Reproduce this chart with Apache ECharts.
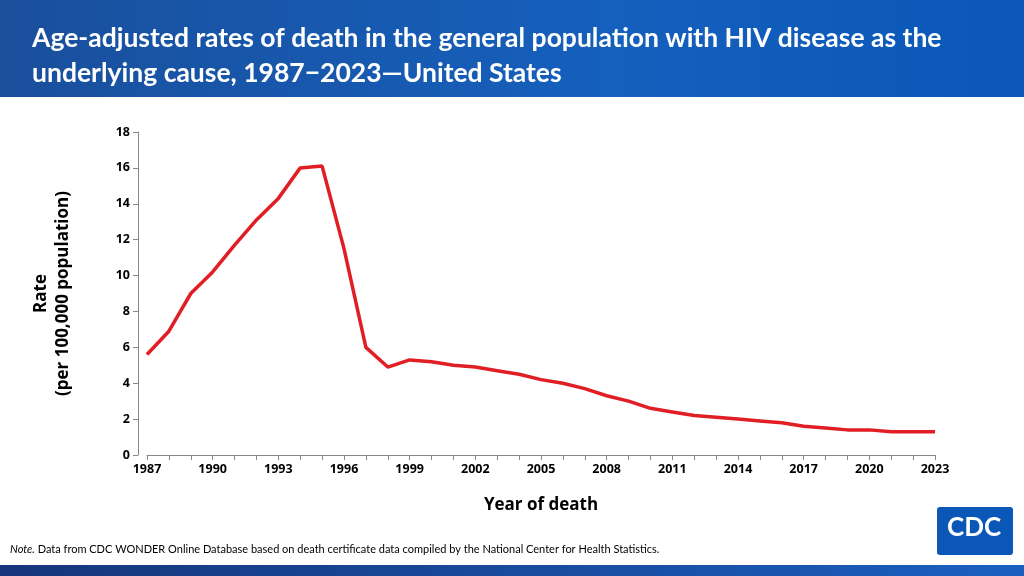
<!DOCTYPE html>
<html>
<head>
<meta charset="utf-8">
<script src="https://cdn.jsdelivr.net/npm/echarts@6/dist/echarts.min.js"></script>
<style>
html,body{margin:0;padding:0;width:1024px;height:576px;overflow:hidden;background:#fff;}
#main{width:1024px;height:576px;}
</style>
</head>
<body>
<div id="main"></div>
<script>
var years = [];
for (var y = 1987; y <= 2023; y++) years.push(String(y));
var rates = [5.6,6.9,9.0,10.2,11.7,13.1,14.3,16.0,16.1,11.5,6.0,4.9,5.3,5.2,5.0,4.9,4.7,4.5,4.2,4.0,3.7,3.3,3.0,2.6,2.4,2.2,2.1,2.0,1.9,1.8,1.6,1.5,1.4,1.4,1.3,1.3,1.3];
var titleText = 'Age-adjusted rates of death in the general population with HIV disease as the\nunderlying cause, 1987\u22122023\u2014United States';

var font = 'Lato, "Open Sans", sans-serif';
var axFont = '"Open Sans", sans-serif';
var chart = echarts.init(document.getElementById('main'));
chart.setOption({
    animation: false,
    graphic: [
        {type:'rect', left:0, top:0, shape:{width:1024, height:97}, z:0,
         style:{fill:new echarts.graphic.LinearGradient(0,0,1,0,[{offset:0,color:'#1a4f9c'},{offset:0.6,color:'#1560bd'},{offset:1,color:'#0a57b8'}])}},
        {type:'rect', left:0, top:565, shape:{width:1024, height:11},
         style:{fill:new echarts.graphic.LinearGradient(0,0,1,0,[{offset:0,color:'#16357a'},{offset:1,color:'#1a5fc0'}])}},
        {type:'text', left:32, top:21, style:{text:titleText, fill:'#fff', font:'bold 26.5px '+font, lineHeight:35}},
        {type:'text', left:10, top:544, style:{text:'{i|Note.} Data from CDC WONDER Online Database based on death certificate data compiled by the National Center for Health Statistics.', rich:{i:{fontStyle:'italic', fontSize:11, fontFamily:font, fill:'#000'}}, fill:'#000', font:'11px '+font}},
        {type:'rect', left:937, top:507, shape:{width:76, height:48, r:3}, style:{fill:'#0a57b8'}},
        {type:'text', left:947, top:515, style:{text:'CDC', fill:'#fff', font:'bold 26px '+font}}
    ],
    grid: {left:147, right:89, top:132, bottom:121},
    xAxis: {
        type:'category', data:years, boundaryGap:false,
        name:'Year of death', nameLocation:'middle', nameGap:42,
        nameTextStyle:{fontSize:17, fontWeight:'bold', color:'#000', fontFamily:axFont},
        axisLine:{lineStyle:{color:'#888'}},
        axisTick:{interval:0, lineStyle:{color:'#888'}},
        axisLabel:{interval:2, fontSize:12.5, fontWeight:'bold', color:'#000', fontFamily:axFont},
        splitLine:{show:false}
    },
    yAxis: {
        type:'value', min:0, max:18, interval:2, offset:9,
        name:'Rate\n(per 100,000 population)', nameLocation:'middle', nameGap:64, nameRotate:90,
        nameTextStyle:{fontSize:17, fontWeight:'bold', color:'#000', fontFamily:axFont, lineHeight:22},
        axisLine:{show:true, lineStyle:{color:'#888'}},
        axisTick:{show:true, lineStyle:{color:'#888'}},
        axisLabel:{fontSize:12.5, fontWeight:'bold', color:'#000', fontFamily:axFont},
        splitLine:{show:false}
    },
    series: [{
        type:'line', data:rates, symbol:'none',
        lineStyle:{color:'#e01e24', width:3.5}
    }]
});
</script>
</body>
</html>
